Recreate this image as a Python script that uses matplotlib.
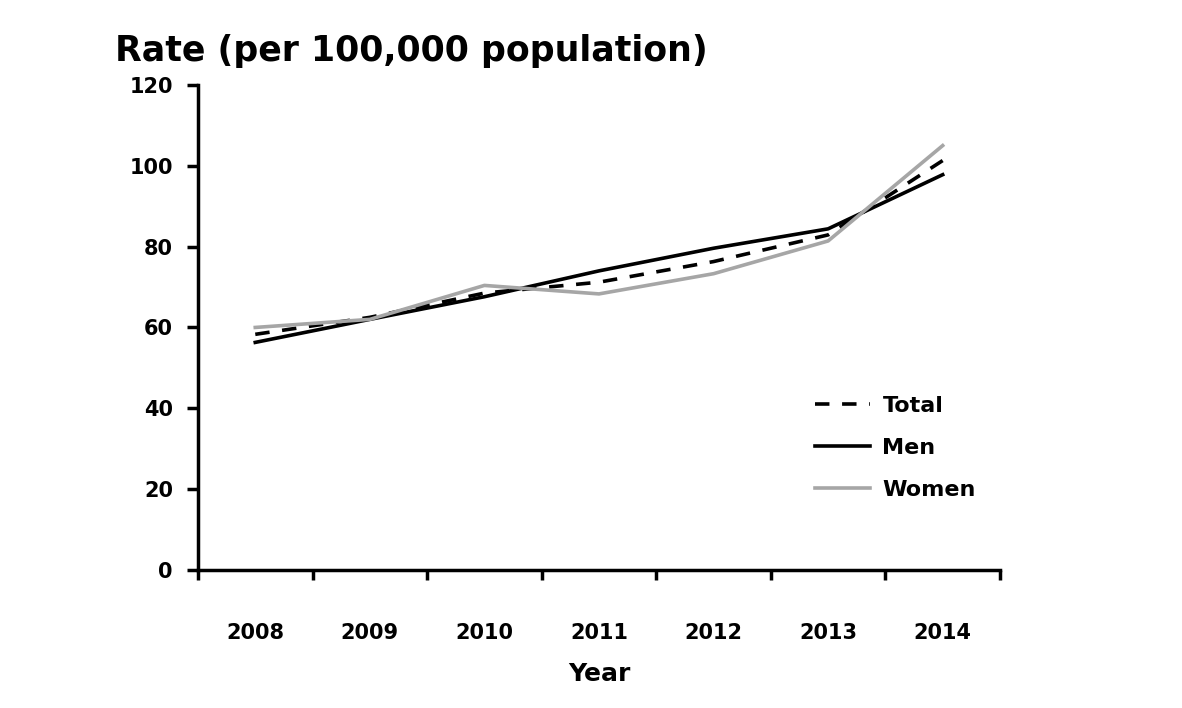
import matplotlib.pyplot as plt

years = ["2008", "2009", "2010", "2011", "2012", "2013", "2014"]
total = [58.3, 62.5, 68.5, 71.2, 76.3, 82.9, 101.3]
men = [56.3, 62.0, 67.6, 74.0, 79.6, 84.4, 97.8]
women = [60.0, 62.0, 70.4, 68.3, 73.3, 81.4, 105.0]

plt.rcParams['font.family'] = ['DejaVu Sans']

fig = plt.figure(figsize=(11.82, 7.08), dpi=100)
ax = fig.add_axes([0.1675, 0.195, 0.6785, 0.685])

x = range(len(years))
ax.plot(x, total, color="black", lw=2.6, dashes=(4, 3.5), label="Total")
ax.plot(x, men, color="black", lw=2.6, label="Men")
ax.plot(x, women, color="#a6a6a6", lw=2.6, label="Women")

ax.set_xlim(-0.5, len(years) - 0.5)
ax.set_ylim(0, 120)
ax.set_yticks(range(0, 121, 20))
ax.set_yticklabels([str(v) for v in range(0, 121, 20)], fontsize=15, fontweight="bold")

# boundary ticks between categories, labels centred
ax.set_xticks([i - 0.5 for i in range(len(years) + 1)])
ax.set_xticklabels([])
ax.set_xticks(list(x), minor=True)
ax.set_xticklabels(years, minor=True, fontsize=15, fontweight="bold")
ax.tick_params(axis="x", which="major", direction="out", length=7, width=2.5)
ax.tick_params(axis="x", which="minor", length=0, pad=38)
ax.tick_params(axis="y", direction="out", length=8, width=2.5, pad=10)

for side in ["top", "right"]:
    ax.spines[side].set_visible(False)
for side in ["left", "bottom"]:
    ax.spines[side].set_linewidth(2.5)

ax.set_xlabel("Year", fontsize=18, fontweight="bold", labelpad=14)
fig.text(0.097, 0.928, "Rate (per 100,000 population)", fontsize=25, fontweight="bold", va="center")

ax.legend(loc="center left", bbox_to_anchor=(0.744, 0.252), frameon=False,
          handlelength=2.5, labelspacing=1.0, handletextpad=0.55,
          prop={"size": 16, "weight": "bold"})

fig.savefig("out.png", dpi=100)
